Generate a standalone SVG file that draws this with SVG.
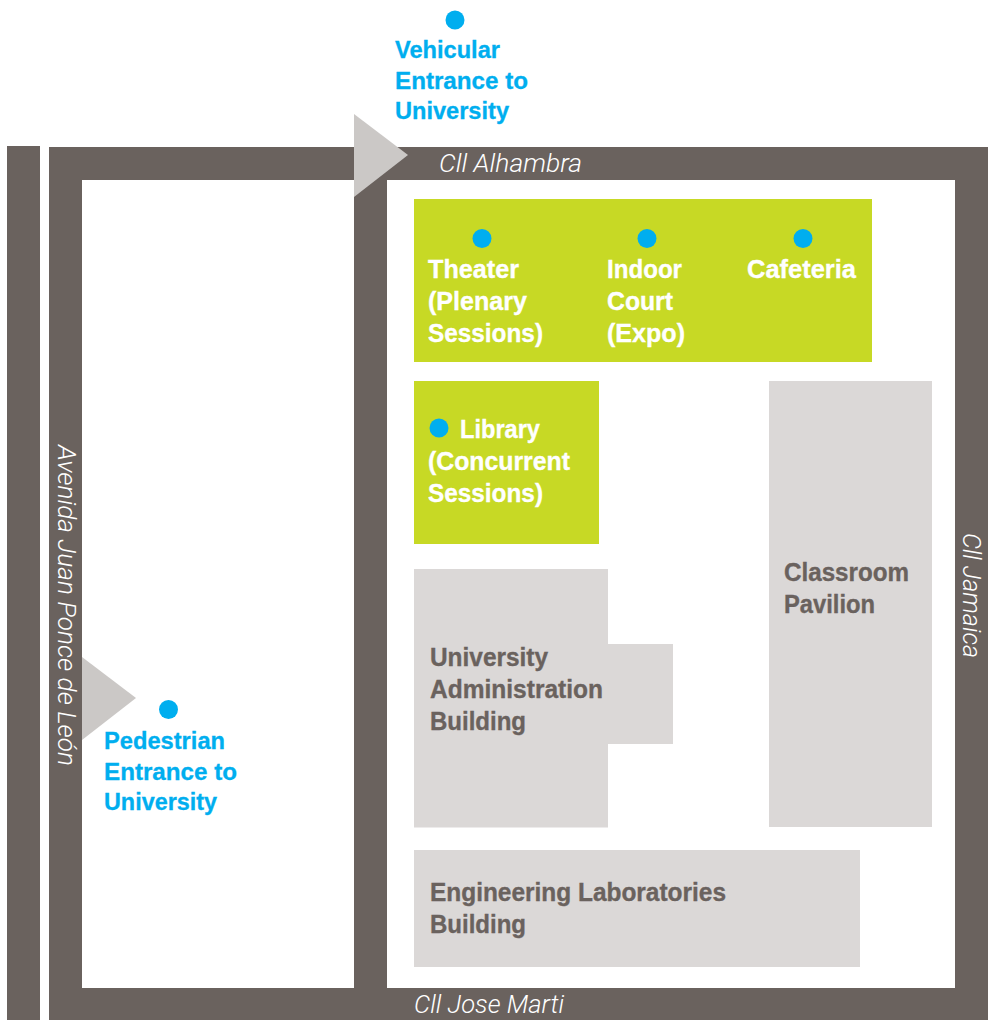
<svg xmlns="http://www.w3.org/2000/svg" width="991" height="1020" viewBox="0 0 991 1020">
<style>
text{font-family:"Liberation Sans",Arial,sans-serif;font-weight:bold}
.road{fill:#6a625e}
.g{fill:#c7d925}
.b{fill:#dbd8d7}
.t{font-size:25px;fill:#fff;stroke:#fff;stroke-width:.35}
.d{font-size:25px;fill:#6a625e;stroke:#6a625e;stroke-width:.35}
.c{font-size:24px;fill:#00aeef;stroke:#00aeef;stroke-width:.3}
.s{font-family:Roboto,"Liberation Sans",sans-serif;font-weight:300;font-style:italic;font-size:25px;fill:#fff}
.dot{fill:#00aeef}
.tri{fill:#cbc8c6}
</style>
<rect width="991" height="1020" fill="#fff"/>
<g id="roads">
<rect class="road" x="7" y="146" width="33" height="874"/>
<path class="road" fill-rule="evenodd" d="M49 147H988V1020H49ZM82 180V988H354V180ZM387 180V988H955V180Z"/>
<text class="s" x="439" y="172" textLength="143" lengthAdjust="spacingAndGlyphs">Cll Alhambra</text>
<text class="s" x="414" y="1013" textLength="150" lengthAdjust="spacingAndGlyphs">Cll Jose Marti</text>
<text class="s" transform="translate(58 445) rotate(90)" textLength="321" lengthAdjust="spacingAndGlyphs">Avenida Juan Ponce de León</text>
<text class="s" transform="translate(963 533) rotate(90)" textLength="125" lengthAdjust="spacingAndGlyphs">Cll Jamaica</text>
</g>
<g id="vehicular-entrance">
<path class="tri" d="M354 114L408 155L354 197Z"/>
<circle class="dot" cx="455" cy="20" r="9.5"/>
<text class="c" x="395" y="58" textLength="105" lengthAdjust="spacingAndGlyphs">Vehicular</text>
<text class="c" x="395" y="89" textLength="133" lengthAdjust="spacingAndGlyphs">Entrance to</text>
<text class="c" x="395" y="119" textLength="114" lengthAdjust="spacingAndGlyphs">University</text>
</g>
<g id="pedestrian-entrance">
<path class="tri" d="M82 657L136 698L82 740Z"/>
<circle class="dot" cx="168.500" cy="709.500" r="9.5"/>
<text class="c" x="104" y="749" textLength="121" lengthAdjust="spacingAndGlyphs">Pedestrian</text>
<text class="c" x="104" y="780" textLength="133" lengthAdjust="spacingAndGlyphs">Entrance to</text>
<text class="c" x="104" y="810" textLength="113" lengthAdjust="spacingAndGlyphs">University</text>
</g>
<g id="main-green">
<rect class="g" x="414" y="199" width="458" height="163"/>
<circle class="dot" cx="482" cy="238.500" r="9.500"/>
<circle class="dot" cx="647" cy="238.500" r="9.500"/>
<circle class="dot" cx="803" cy="238.500" r="9.500"/>
<text class="t" x="428" y="278" textLength="91" lengthAdjust="spacingAndGlyphs">Theater</text>
<text class="t" x="428" y="310" textLength="99" lengthAdjust="spacingAndGlyphs">(Plenary</text>
<text class="t" x="428" y="342" textLength="115" lengthAdjust="spacingAndGlyphs">Sessions)</text>
<text class="t" x="607" y="278" textLength="75" lengthAdjust="spacingAndGlyphs">Indoor</text>
<text class="t" x="607" y="310" textLength="66" lengthAdjust="spacingAndGlyphs">Court</text>
<text class="t" x="607" y="342" textLength="78" lengthAdjust="spacingAndGlyphs">(Expo)</text>
<text class="t" x="747" y="278" textLength="109" lengthAdjust="spacingAndGlyphs">Cafeteria</text>
</g>
<g id="library">
<rect class="g" x="414" y="381" width="185" height="163"/>
<circle class="dot" cx="439" cy="428" r="9.500"/>
<text class="t" x="460" y="438" textLength="80" lengthAdjust="spacingAndGlyphs">Library</text>
<text class="t" x="428" y="470" textLength="142" lengthAdjust="spacingAndGlyphs">(Concurrent</text>
<text class="t" x="428" y="502" textLength="115" lengthAdjust="spacingAndGlyphs">Sessions)</text>
</g>
<g id="classroom-pavilion">
<rect class="b" x="769" y="381" width="163" height="446"/>
<text class="d" x="784" y="581" textLength="125" lengthAdjust="spacingAndGlyphs">Classroom</text>
<text class="d" x="784" y="613" textLength="91" lengthAdjust="spacingAndGlyphs">Pavilion</text>
</g>
<g id="administration">
<path class="b" d="M414 569H608V644H673V744H608V827.500H414Z"/>
<text class="d" x="430" y="666" textLength="118" lengthAdjust="spacingAndGlyphs">University</text>
<text class="d" x="430" y="698" textLength="173" lengthAdjust="spacingAndGlyphs">Administration</text>
<text class="d" x="430" y="730" textLength="96" lengthAdjust="spacingAndGlyphs">Building</text>
</g>
<g id="engineering">
<rect class="b" x="414" y="850" width="446" height="117"/>
<text class="d" x="430" y="901" textLength="296" lengthAdjust="spacingAndGlyphs">Engineering Laboratories</text>
<text class="d" x="430" y="933" textLength="96" lengthAdjust="spacingAndGlyphs">Building</text>
</g>
<g id="connectors"></g>
</svg>
